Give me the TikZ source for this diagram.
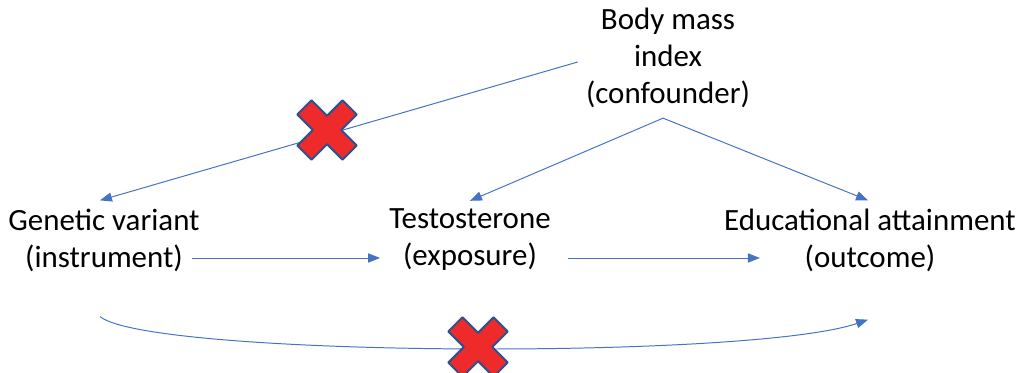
\documentclass[tikz,border=0pt]{standalone}
\usepackage{fontspec}
\setmainfont{Carlito}
\usetikzlibrary{arrows.meta,calc}
\definecolor{link-blue}{HTML}{4472C4}
\definecolor{cross-red}{HTML}{EE2A2A}
\definecolor{cross-edge}{HTML}{2F528F}

\begin{document}
\begin{tikzpicture}[x=0.025cm, y=-0.025cm,
    every node/.style={font=\fontsize{22}{26.3}\selectfont},
    varbox/.style={align=center, inner sep=0pt},
    link/.style={draw=link-blue, line width=0.7pt,
      -{Triangle[length=8.5pt, width=6.5pt]}},
    nocross/.pic={\draw[fill=cross-red, draw=cross-edge, line width=1.4pt,
        line join=round, rotate=45]
      (10,32) -- (10,10) -- (32,10) -- (32,-10) -- (10,-10) -- (10,-32)
      -- (-10,-32) -- (-10,-10) -- (-32,-10) -- (-32,10) -- (-10,10)
      -- (-10,32) -- cycle;}]
  \useasboundingbox (0,0) rectangle (1018,373);
  % variables
  \node[varbox] (bmi) at (668,58) {Body mass\\index\\(confounder)};
  \node[varbox] (gen) at (104,240) {Genetic variant\\(instrument)};
  \node[varbox] (tes) at (470,240) {Testosterone\\(exposure)};
  \node[varbox] (edu) at (870,240) {Educational attainment\\(outcome)};
  % confounder paths
  \coordinate (bmi-l) at ($(bmi.west)+(-8,4)$);
  \coordinate (bmi-b) at ($(bmi.south)+(-5,10)$);
  \draw[link] (bmi-l) -- ($(gen.north)+(-4,-8)$);
  \draw[link] (bmi-b) -- ($(tes.north)+(0,-8)$);
  \draw[link] (bmi-b) -- ($(edu.north)+(-2,-8)$);
  % causal chain
  \draw[link] (gen.east) ++(-8,18) -- ($(tes.west)+(-9,18)$);
  \draw[link] (tes.east) ++(17,18) -- ($(edu.west)+(36,18)$);
  % direct path
  \draw[link] ($(gen.south)+(-4,45)$) .. controls (150,357) and (750,360)
    .. ($(edu.south)+(-2,48)$);
  % excluded paths
  \pic at (327,130) {nocross};
  \pic at (478,347) {nocross};
\end{tikzpicture}
\end{document}
